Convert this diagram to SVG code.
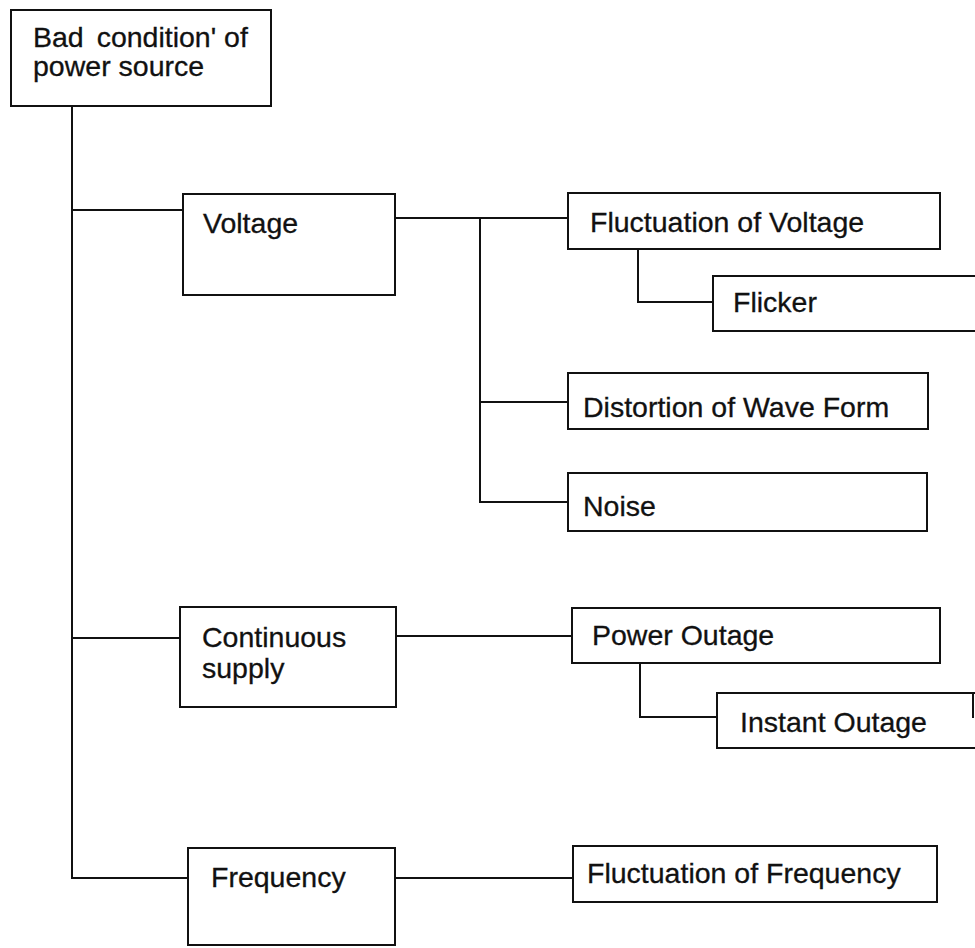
<svg xmlns="http://www.w3.org/2000/svg" width="975" height="948" viewBox="0 0 975 948">
  <style>
    .box { fill: #ffffff; stroke: #111111; stroke-width: 2; }
    .wire { fill: none; stroke: #111111; stroke-width: 2; }
    .lbl { font-family: "Liberation Sans", Arial, Helvetica, sans-serif; font-size: 28.5px; fill: #111111; stroke: #111111; stroke-width: 0.3; }
  </style>
  <rect x="0" y="0" width="975" height="948" fill="#ffffff"/>

  <!-- tree connectors -->
  <g id="connectors">
    <!-- main trunk from root -->
    <path class="wire" d="M72 106 V878 H188"/>
    <path class="wire" d="M72 210 H183"/>
    <path class="wire" d="M72 638 H180"/>
    <!-- voltage branches -->
    <path class="wire" d="M395 218 H568"/>
    <path class="wire" d="M480 218 V502 H568"/>
    <path class="wire" d="M480 402 H568"/>
    <path class="wire" d="M638 249 V302 H713"/>
    <!-- continuous supply branches -->
    <path class="wire" d="M396 636 H572"/>
    <path class="wire" d="M640 663 V717 H717"/>
    <!-- frequency branch -->
    <path class="wire" d="M395 878 H573"/>
  </g>

  <g id="root">
    <rect class="box" x="11" y="10" width="260" height="96"/>
    <text class="lbl" x="33" y="47">Bad <tspan dx="5">condition' of</tspan></text>
    <text class="lbl" x="33" y="76">power source</text>
  </g>

  <g id="voltage">
    <rect class="box" x="183" y="194" width="212" height="101"/>
    <text class="lbl" x="203" y="233">Voltage</text>
  </g>

  <g id="fluct-voltage">
    <rect class="box" x="568" y="193" width="372" height="56"/>
    <text class="lbl" x="590" y="232">Fluctuation of Voltage</text>
  </g>

  <g id="flicker">
    <rect class="box" x="713" y="276" width="280" height="55"/>
    <text class="lbl" x="733" y="312">Flicker</text>
  </g>

  <g id="distortion">
    <rect class="box" x="568" y="373" width="360" height="56"/>
    <text class="lbl" x="583" y="417">Distortion of Wave Form</text>
  </g>

  <g id="noise">
    <rect class="box" x="568" y="473" width="359" height="58"/>
    <text class="lbl" x="583" y="516">Noise</text>
  </g>

  <g id="continuous">
    <rect class="box" x="180" y="607" width="216" height="100"/>
    <text class="lbl" x="202" y="647">Continuous</text>
    <text class="lbl" x="202" y="678">supply</text>
  </g>

  <g id="outage">
    <rect class="box" x="572" y="608" width="368" height="55"/>
    <text class="lbl" x="592" y="645">Power Outage</text>
  </g>

  <g id="instant-outage">
    <path class="wire" d="M993 693 H717 V748 H993"/>
    <path class="wire" d="M973 693 V718"/>
    <text class="lbl" x="740" y="732">Instant Outage</text>
  </g>

  <g id="frequency">
    <rect class="box" x="188" y="848" width="207" height="97"/>
    <text class="lbl" x="211" y="887">Frequency</text>
  </g>

  <g id="fluct-frequency">
    <rect class="box" x="573" y="846" width="364" height="56"/>
    <text class="lbl" x="587" y="883">Fluctuation of Frequency</text>
  </g>
</svg>
